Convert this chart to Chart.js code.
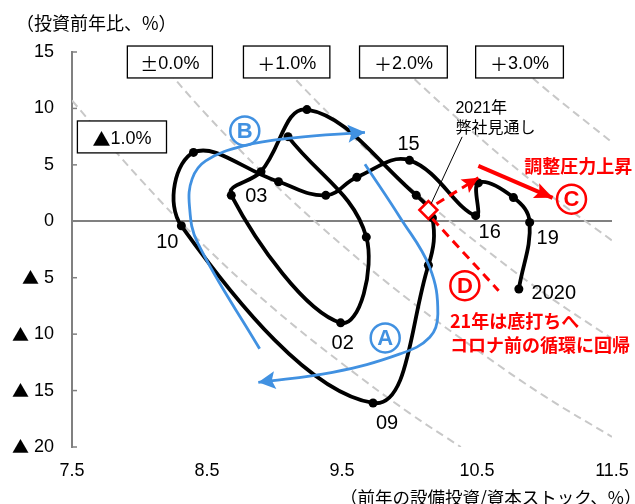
<!DOCTYPE html>
<html lang="ja">
<head>
<meta charset="utf-8">
<script src="https://cdn.jsdelivr.net/npm/chart.js@4.4.1/dist/chart.umd.min.js"></script>
<style>
  html, body { margin: 0; padding: 0; background: #fff; }
  #wrap { width: 635px; height: 504px; }
</style>
</head>
<body>
<div id="wrap"><canvas id="chart" width="635" height="504"></canvas></div>
<script>
// 設備投資循環（資本ストック循環）2000-2020年
const years = [2000, 2001, 2002, 2003, 2004, 2005, 2006, 2007, 2008, 2009, 2010,
               2011, 2012, 2013, 2014, 2015, 2016, 2017, 2018, 2019, 2020];
// 前年の設備投資/資本ストック（%）
const stockRatio = [9.10, 9.68, 9.49, 8.68, 8.90, 9.24, 10.05, 10.17, 10.14, 9.73, 8.31,
                    8.40, 9.03, 9.38, 9.61, 10.00, 10.49, 10.51, 10.77, 10.89, 10.81];
// 設備投資前年比（%）
const capexGrowth = [7.5, -1.4, -9.0, 2.3, 4.4, 9.9, 2.3, 0.3, -3.9, -16.1, -0.4,
                     6.1, 3.5, 2.3, 3.9, 5.4, 0.5, 3.4, 2.1, -0.1, -6.0];
// 2021年見通し
const outlookRatio = [10.14];
const outlookGrowth = [1.0];

const xTicks = [7.5, 8.5, 9.5, 10.5, 11.5];
const yTicks = [-20, -15, -10, -5, 0, 5, 10, 15];

// 期待成長率ごとの等成長率線
const isoLabels = ['▲1.0%', '±0.0%', '＋1.0%', '＋2.0%', '＋3.0%'];
const isoM1 = [[7.5, 10.7], [8, 3.8], [8.5, -2.4], [9, -7.8], [9.5, -12.6], [10, -17], [10.38, -20]];
const iso0 = [[8.09, 15], [8.5, 9.4], [9, 3.3], [9.5, -2.1], [10, -7], [10.5, -11.4], [11, -15.5], [11.5, -19.1]];
const isoP1 = [[8.96, 15], [9.5, 8.4], [10, 3], [10.5, -1.9], [11, -6.4], [11.5, -10.4]];
const isoP2 = [[9.83, 15], [10, 13], [10.5, 7.6], [11, 2.7], [11.5, -1.7]];
const isoP3 = [[10.7, 15], [11, 11.8], [11.5, 7]];

// 矢印（A: 調整局面, B: 回復局面, C/D: 21年以降）
const arrowA = [[9.67, 5.06], [9.93, 0.34], [10.15, -4.09], [10.21, -8.21], [10.15, -10.28], [9.93, -11.75], [9.43, -13.38], [8.88, -14.27]];
const arrowB = [[8.89, -11.3], [8.43, -1.9], [8.37, 1.37], [8.39, 3.76], [8.49, 5.35], [8.77, 6.68], [9.14, 7.39], [9.67, 7.88]];
const arrowC = [[10.51, 4.91], [11.06, 2.08]];
const dashUp = [[10.2, 1.55], [10.51, 3.85]];
const dashDown = [[10.17, 0.22], [10.66, -6.15]];

const BLUE = '#4191e1';
const RED = '#ff0000';
const FONT = "'Liberation Sans', 'Noto Sans CJK JP', sans-serif";
const JP = "'Noto Sans CJK JP', sans-serif";

const pts = arr => arr.map(([x, y]) => ({x, y}));

// 年ラベルの位置（点からのずれ, px）
const tagOffsets = {
  2002: [2, 21, '02'], 2003: [25, 1, '03'], 2009: [14, 20, '09'], 2010: [-14, 17, '10'],
  2015: [-1, -16, '15'], 2016: [14, 17, '16'], 2019: [18, 16, '19'], 2020: [35, 4, '2020']
};

function isoSet(arr) {
  return {data: pts(arr), showLine: true, borderColor: '#c8c8c8', borderWidth: 2,
          borderDash: [8, 5], pointRadius: 0, tension: 0.4, order: 9};
}

function arrowHead(ctx, from, tip, len, half, color) {
  const a = Math.atan2(tip.y - from.y, tip.x - from.x);
  ctx.save();
  ctx.translate(tip.x, tip.y);
  ctx.rotate(a);
  ctx.beginPath();
  ctx.moveTo(0, 0);
  ctx.lineTo(-len, -half);
  ctx.lineTo(-len * 0.8, 0);
  ctx.lineTo(-len, half);
  ctx.closePath();
  ctx.fillStyle = color;
  ctx.fill();
  ctx.restore();
}

function circled(ctx, c, letter, color) {
  ctx.beginPath();
  ctx.arc(c.x, c.y, 14.5, 0, Math.PI * 2);
  ctx.lineWidth = 2.5;
  ctx.strokeStyle = color;
  ctx.stroke();
  ctx.fillStyle = color;
  ctx.font = 'bold 22px ' + FONT;
  ctx.textAlign = 'center';
  ctx.textBaseline = 'middle';
  ctx.fillText(letter, c.x, c.y + 1);
}

// 記号（▲, ±, ＋）だけ和文フォントで描き、残りは欧文フォントで続ける
function mixedText(ctx, text, cx, cy, size) {
  const sym = /^[▲±＋]/.test(text) ? text[0] : '';
  const rest = text.slice(sym.length);
  ctx.font = size + 'px ' + JP;
  const w1 = sym ? ctx.measureText(sym).width : 0;
  ctx.font = size + 'px ' + FONT;
  const w2 = ctx.measureText(rest).width;
  let x = cx - (w1 + w2) / 2;
  ctx.textAlign = 'left';
  if (sym) {
    ctx.font = size + 'px ' + JP;
    ctx.fillText(sym, x, cy);
    x += w1;
  }
  ctx.font = size + 'px ' + FONT;
  ctx.fillText(rest, x, cy);
}

const annotate = {
  id: 'annotate',
  afterDatasetsDraw(chart) {
    const {ctx, chartArea} = chart;
    const sx = chart.scales.x, sy = chart.scales.y;
    const P = (x, y) => ({x: sx.getPixelForValue(x), y: sy.getPixelForValue(y)});
    const end = arr => [P(...arr[arr.length - 2]), P(...arr[arr.length - 1])];
    ctx.save();

    // y軸の内向き目盛りと目盛りラベル（マイナスは▲表記）
    ctx.strokeStyle = '#808080';
    ctx.lineWidth = 1.5;
    ctx.textBaseline = 'middle';
    yTicks.forEach(v => {
      const y = sy.getPixelForValue(v);
      ctx.beginPath();
      ctx.moveTo(chartArea.left, y);
      ctx.lineTo(chartArea.left + 5, y);
      ctx.stroke();
      const num = String(Math.abs(v));
      ctx.fillStyle = '#000';
      ctx.textAlign = 'right';
      ctx.font = '18px ' + FONT;
      const right = chartArea.left - 18;
      ctx.fillText(num, right, y);
      if (v < 0) {
        const w = ctx.measureText(num).width;
        ctx.font = '17px ' + JP;
        ctx.fillText('▲', right - w - 5, y);
      }
    });

    // 矢じり
    arrowHead(ctx, ...end(arrowA), 17, 9, BLUE);
    arrowHead(ctx, ...end(arrowB), 17, 9, BLUE);
    arrowHead(ctx, ...end(arrowC), 18, 8, RED);
    arrowHead(ctx, ...end(dashUp), 16, 8, RED);

    // 年ラベル
    ctx.fillStyle = '#000';
    ctx.font = '20px ' + FONT;
    ctx.textAlign = 'center';
    years.forEach((yr, i) => {
      const t = tagOffsets[yr];
      if (!t) return;
      const p = P(stockRatio[i], capexGrowth[i]);
      ctx.fillText(t[2], p.x + t[0], p.y + t[1]);
    });

    // 等成長率線のラベル枠
    const boxes = [[7.54, 8.89, 8.2, 6.06], [7.91, 15.53, 8.54, 12.7], [8.77, 15.53, 9.41, 12.7],
                   [9.63, 15.53, 10.28, 12.7], [10.49, 15.53, 11.14, 12.7]];
    boxes.forEach((b, i) => {
      const a = P(b[0], b[1]), c = P(b[2], b[3]);
      ctx.fillStyle = '#fff';
      ctx.fillRect(a.x, a.y, c.x - a.x, c.y - a.y);
      ctx.strokeStyle = '#000';
      ctx.lineWidth = 1.3;
      ctx.strokeRect(a.x, a.y, c.x - a.x, c.y - a.y);
      ctx.fillStyle = '#000';
      mixedText(ctx, isoLabels[i], (a.x + c.x) / 2, (a.y + c.y) / 2 + 2, 18);
    });

    // 丸囲み記号
    circled(ctx, P(9.82, -10.34), 'A', BLUE);
    circled(ctx, P(8.78, 8.01), 'B', BLUE);
    circled(ctx, P(11.2, 1.96), 'C', RED);
    circled(ctx, P(10.41, -5.71), 'D', RED);

    // 見通しの注記
    const lead0 = P(10.39, 7.48), lead1 = P(10.16, 1.55);
    ctx.strokeStyle = '#000';
    ctx.lineWidth = 1;
    ctx.beginPath();
    ctx.moveTo(lead0.x, lead0.y);
    ctx.lineTo(lead1.x, lead1.y);
    ctx.stroke();
    ctx.fillStyle = '#000';
    ctx.textAlign = 'left';
    ctx.font = '16px ' + FONT;
    let p = P(10.34, 9.96);
    ctx.fillText('2021年', p.x, p.y);
    p = P(10.34, 8.19);
    ctx.fillText('弊社見通し', p.x, p.y);

    ctx.fillStyle = RED;
    ctx.font = 'bold 18px ' + JP;
    p = P(10.85, 4.91);
    ctx.fillText('調整圧力上昇', p.x, p.y);
    p = P(10.3, -8.81);
    ctx.fillText('21年は底打ちへ', p.x, p.y);
    p = P(10.3, -11.02);
    ctx.fillText('コロナ前の循環に回帰', p.x, p.y);

    // 軸タイトル
    ctx.fillStyle = '#000';
    ctx.font = '18px ' + JP;
    ctx.fillText('（投資前年比、%）', 16, 23);
    ctx.font = '17.5px ' + JP;
    ctx.fillText('（前年の設備投資/資本ストック、%）', 340, 497);
    ctx.restore();
  }
};

new Chart(document.getElementById('chart'), {
  type: 'scatter',
  data: {
    datasets: [
      {data: outlookRatio.map((x, i) => ({x, y: outlookGrowth[i]})), pointStyle: 'rectRot',
       pointRadius: 9, borderColor: RED, borderWidth: 2.5, backgroundColor: '#fff', order: 0},
      {data: pts(dashUp), showLine: true, borderColor: RED, borderWidth: 3, borderDash: [9, 6], pointRadius: 0, order: 1},
      {data: pts(dashDown), showLine: true, borderColor: RED, borderWidth: 3, borderDash: [9, 6], pointRadius: 0, order: 1},
      {data: pts(arrowC), showLine: true, borderColor: RED, borderWidth: 4, pointRadius: 0, order: 1},
      {data: pts(arrowA), showLine: true, borderColor: BLUE, borderWidth: 2.8, pointRadius: 0, tension: 0.4, order: 2},
      {data: pts(arrowB), showLine: true, borderColor: BLUE, borderWidth: 2.8, pointRadius: 0, tension: 0.4, order: 2},
      {data: years.map((yr, i) => ({x: stockRatio[i], y: capexGrowth[i]})), showLine: true,
       borderColor: '#000', backgroundColor: '#000', borderWidth: 3.8, pointRadius: 4.5,
       pointBorderWidth: 0, tension: 0.4, order: 3},
      isoSet(isoM1), isoSet(iso0), isoSet(isoP1), isoSet(isoP2), isoSet(isoP3)
    ]
  },
  options: {
    responsive: false,
    animation: false,
    layout: {padding: {top: 52, right: 23, left: 0, bottom: 0}},
    plugins: {legend: {display: false}, tooltip: {enabled: false}},
    scales: {
      x: {
        type: 'linear', min: 7.5, max: 11.5,
        afterBuildTicks: s => { s.ticks = xTicks.map(v => ({value: v})); },
        afterFit: s => { s.height = 57; s.paddingLeft = 0; s.paddingRight = 0; },
        grid: {display: false, drawTicks: false},
        border: {display: false},
        ticks: {padding: 13, color: '#000', font: {size: 18, family: FONT}, callback: v => v.toFixed(1)}
      },
      y: {
        type: 'linear', min: -20, max: 15,
        afterBuildTicks: s => { s.ticks = yTicks.map(v => ({value: v})); },
        afterFit: s => { s.width = 72; },
        grid: {drawTicks: false, lineWidth: 2, color: c => c.tick && c.tick.value === 0 ? '#808080' : 'rgba(0,0,0,0)'},
        border: {color: '#808080', width: 2},
        ticks: {display: false}
      }
    }
  },
  plugins: [annotate]
});
</script>
</body>
</html>
